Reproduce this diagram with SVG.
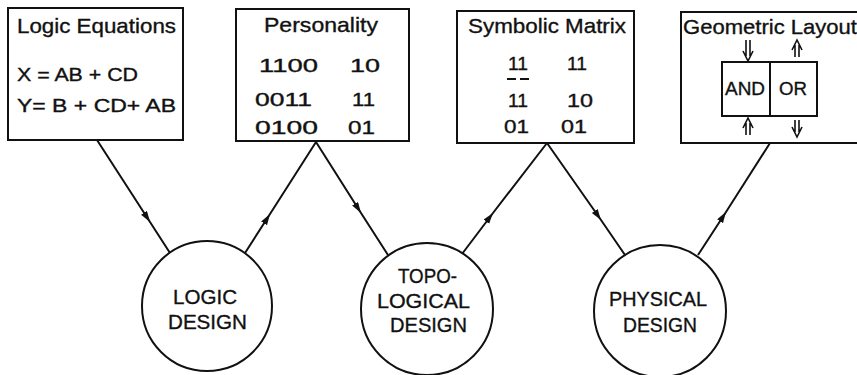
<svg xmlns="http://www.w3.org/2000/svg" width="857" height="375" viewBox="0 0 857 375">
  <style>
    .box { fill: none; stroke: #111; stroke-width: 2; }
    .node { fill: #fff; stroke: #111; stroke-width: 2; }
    .edge { fill: none; stroke: #111; stroke-width: 2; marker-mid: url(#tri); }
    .dbl { fill: none; stroke: #111; stroke-width: 1.6; }
    text { font-family: "Liberation Sans", Arial, sans-serif; fill: #111; stroke: #111; stroke-width: 0.35; }
    .title { font-size: 21px; }
    .eq { font-size: 17.5px; }
    .bits { font-size: 18.5px; }
    .cap { font-size: 20.5px; text-anchor: middle; }
  </style>
  <defs>
    <marker id="tri" markerUnits="userSpaceOnUse" markerWidth="12" markerHeight="8" refX="11" refY="3.5" orient="auto">
      <path d="M0,0 L11,3.5 L0,7 z" fill="#111"/>
    </marker>
  </defs>
  <rect width="857" height="375" fill="#fff"/>

  <!-- connectors: each has its arrowhead at the middle vertex -->
  <g id="connectors">
    <path class="edge" d="M97,140 L150,222 L170,253"/>
    <path class="edge" d="M245,253 L270,214 L316,142"/>
    <path class="edge" d="M316,142 L361,213 L388,255"/>
    <path class="edge" d="M462,254 L493,213 L547,143"/>
    <path class="edge" d="M547,143 L601,220 L625,255"/>
    <path class="edge" d="M698,255 L726,212 L770,143"/>
  </g>

  <g id="logic-equations">
    <rect class="box" x="8" y="8" width="175" height="132"/>
    <text class="title" x="17" y="33" textLength="159" lengthAdjust="spacingAndGlyphs">Logic Equations</text>
    <text class="eq" x="17" y="81" textLength="121" lengthAdjust="spacingAndGlyphs">X = AB + CD</text>
    <text class="eq" x="17" y="112" textLength="159" lengthAdjust="spacingAndGlyphs">Y= B + CD+ AB</text>
  </g>

  <g id="personality">
    <rect class="box" x="236" y="9" width="173" height="132"/>
    <text class="title" x="264" y="32" textLength="114" lengthAdjust="spacingAndGlyphs">Personality</text>
    <text class="bits" x="259" y="72" textLength="59" lengthAdjust="spacingAndGlyphs">1100</text>
    <text class="bits" x="350" y="72" textLength="30" lengthAdjust="spacingAndGlyphs">10</text>
    <text class="bits" x="255" y="106" textLength="57" lengthAdjust="spacingAndGlyphs">0011</text>
    <text class="bits" x="352" y="106" textLength="23" lengthAdjust="spacingAndGlyphs">11</text>
    <text class="bits" x="255" y="134" textLength="63" lengthAdjust="spacingAndGlyphs">0100</text>
    <text class="bits" x="348" y="134" textLength="27" lengthAdjust="spacingAndGlyphs">01</text>
  </g>

  <g id="symbolic-matrix">
    <rect class="box" x="457" y="11" width="177" height="132"/>
    <text class="title" x="468" y="33" textLength="158" lengthAdjust="spacingAndGlyphs">Symbolic Matrix</text>
    <text class="bits" x="508" y="70" textLength="20" lengthAdjust="spacingAndGlyphs">11</text>
    <text class="bits" x="567" y="70" textLength="20" lengthAdjust="spacingAndGlyphs">11</text>
    <path d="M507,79 H516 M520,79 H529" stroke="#111" stroke-width="2"/>
    <text class="bits" x="508" y="107" textLength="20" lengthAdjust="spacingAndGlyphs">11</text>
    <text class="bits" x="567" y="107" textLength="26" lengthAdjust="spacingAndGlyphs">10</text>
    <text class="bits" x="504" y="133" textLength="25" lengthAdjust="spacingAndGlyphs">01</text>
    <text class="bits" x="561" y="133" textLength="26" lengthAdjust="spacingAndGlyphs">01</text>
  </g>

  <g id="geometric-layout">
    <rect class="box" x="681" y="12" width="190" height="131"/>
    <text class="title" x="683" y="34" textLength="174" lengthAdjust="spacingAndGlyphs">Geometric Layout</text>
    <rect class="box" x="722" y="62" width="95" height="54"/>
    <line x1="770" y1="62" x2="770" y2="116" stroke="#111" stroke-width="2"/>
    <text class="bits" x="725" y="95" textLength="40" lengthAdjust="spacingAndGlyphs">AND</text>
    <text class="bits" x="779" y="95" textLength="28" lengthAdjust="spacingAndGlyphs">OR</text>
    <!-- double-shafted signal arrows -->
    <path class="dbl" d="M746,40 V56 M750,40 V56 M743,51 L748,61 L753,51"/>
    <path class="dbl" d="M795,45 V57 M799,45 V57 M792,50 L797,40 L802,50"/>
    <path class="dbl" d="M746,123 V135 M750,123 V135 M743,128 L748,118 L753,128"/>
    <path class="dbl" d="M795,120 V132 M799,120 V132 M792,127 L797,137 L802,127"/>
  </g>

  <g id="logic-design">
    <circle class="node" cx="207" cy="306" r="65"/>
    <text class="cap" x="205" y="304" textLength="64" lengthAdjust="spacingAndGlyphs">LOGIC</text>
    <text class="cap" x="207.5" y="329" textLength="79" lengthAdjust="spacingAndGlyphs">DESIGN</text>
  </g>

  <g id="topological-design">
    <circle class="node" cx="427" cy="309" r="66"/>
    <text class="cap" x="427.5" y="283" textLength="59" lengthAdjust="spacingAndGlyphs">TOPO-</text>
    <text class="cap" x="423.5" y="308" textLength="93" lengthAdjust="spacingAndGlyphs">LOGICAL</text>
    <text class="cap" x="428.5" y="332" textLength="77" lengthAdjust="spacingAndGlyphs">DESIGN</text>
  </g>

  <g id="physical-design">
    <circle class="node" cx="660" cy="311" r="66"/>
    <text class="cap" x="658" y="306" textLength="98" lengthAdjust="spacingAndGlyphs">PHYSICAL</text>
    <text class="cap" x="660" y="332" textLength="74" lengthAdjust="spacingAndGlyphs">DESIGN</text>
  </g>
</svg>
